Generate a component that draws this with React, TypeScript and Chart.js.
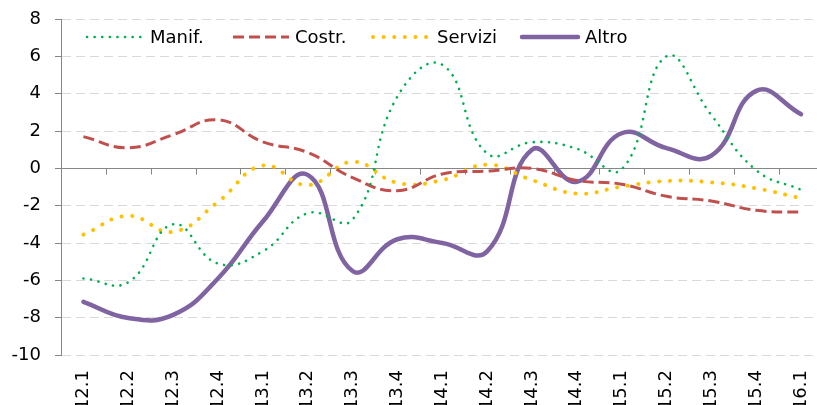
import React, { useEffect, useRef } from "react";
import { Chart, registerables } from "chart.js";
Chart.register(...registerables);

const categories = ["12.1","12.2","12.3","12.4","13.1","13.2","13.3","13.4","14.1","14.2","14.3","14.4","15.1","15.2","15.3","15.4","16.1"];
const manif = [-5.9, -6.1, -3.0, -5.1, -4.45, -2.4, -2.75, 3.85, 5.55, 0.8, 1.4, 1.05, -0.05, 6.0, 2.85, -0.1, -1.15];
const costr = [1.7, 1.1, 1.8, 2.6, 1.42, 0.85, -0.5, -1.2, -0.3, -0.15, 0.0, -0.65, -0.85, -1.5, -1.75, -2.25, -2.35];
const servizi = [-3.55, -2.55, -3.4, -1.8, 0.15, -0.9, 0.35, -0.78, -0.63, 0.2, -0.63, -1.35, -0.98, -0.68, -0.75, -1.07, -1.6];
const altro = [-7.15, -8.02, -7.85, -5.9, -2.85, -0.35, -5.5, -3.8, -4.0, -4.45, 1.0, -0.72, 1.88, 1.08, 0.68, 4.15, 2.9];
const seriesNames = ["Manif.", "Costr.", "Servizi", "Altro"];
const yMin = -10;
const yMax = 8;
const yStep = 2;

const FONT = "'DejaVu Sans', Verdana, sans-serif";

const zeroLinePlugin = {
  id: "zeroLine",
  beforeDatasetsDraw(chart: any) {
    const { ctx, chartArea, scales } = chart;
    const y = scales.y;
    const y0 = Math.round(y.getPixelForValue(0)) + 0.5;
    ctx.save();
    ctx.strokeStyle = "#868686";
    ctx.lineWidth = 1;
    ctx.setLineDash([]);
    ctx.beginPath();
    ctx.moveTo(chartArea.left, y0);
    ctx.lineTo(chartArea.right, y0);
    const n = categories.length;
    const w = (chartArea.right - chartArea.left) / n;
    for (let i = 0; i <= n; i++) {
      const px = Math.round(chartArea.left + i * w) + 0.5;
      ctx.moveTo(px, y0);
      ctx.lineTo(px, y0 + 6);
    }
    ctx.stroke();
    ctx.restore();
  },
};

const legendPlugin = {
  id: "customLegend",
  afterDraw(chart: any) {
    const { ctx } = chart;
    const items = [
      { x1: 87, x2: 145, tx: 150 },
      { x1: 233, x2: 289, tx: 295 },
      { x1: 373, x2: 427, tx: 437 },
      { x1: 522, x2: 578, tx: 585 },
    ];
    const yy = 37;
    ctx.save();
    chart.data.datasets.forEach((ds: any, i: number) => {
      const it = items[i];
      ctx.beginPath();
      ctx.strokeStyle = ds.borderColor;
      ctx.lineWidth = ds.borderWidth;
      ctx.lineCap = ds.borderCapStyle || "butt";
      ctx.setLineDash(ds.borderDash || []);
      ctx.moveTo(it.x1, yy);
      ctx.lineTo(it.x2, yy);
      ctx.stroke();
      ctx.setLineDash([]);
      ctx.fillStyle = "#000";
      ctx.font = `18px ${FONT}`;
      ctx.textBaseline = "middle";
      ctx.textAlign = "left";
      ctx.fillText(ds.label, it.tx, yy + 1);
    });
    ctx.restore();
  },
};

export default function App() {
  const ref = useRef<HTMLCanvasElement | null>(null);
  useEffect(() => {
    if (!ref.current) return;
    const chart = new Chart(ref.current, {
      type: "line",
      data: {
        labels: categories,
        datasets: [
          {
            label: seriesNames[0],
            data: manif,
            borderColor: "#00b050",
            borderWidth: 2.6,
            borderDash: [0.1, 7.5],
            borderCapStyle: "round",
            pointRadius: 0,
            tension: 0.45,
            fill: false,
          },
          {
            label: seriesNames[1],
            data: costr,
            borderColor: "#c0504d",
            borderWidth: 3,
            borderDash: [11, 5],
            borderCapStyle: "butt",
            pointRadius: 0,
            tension: 0.45,
            fill: false,
          },
          {
            label: seriesNames[2],
            data: servizi,
            borderColor: "#ffc000",
            borderWidth: 4,
            borderDash: [0.1, 10.5],
            borderCapStyle: "round",
            pointRadius: 0,
            tension: 0.45,
            fill: false,
          },
          {
            label: seriesNames[3],
            data: altro,
            borderColor: "#8064a2",
            borderWidth: 4.5,
            borderCapStyle: "round",
            pointRadius: 0,
            tension: 0.45,
            fill: false,
          },
        ],
      },
      options: {
        animation: false,
        responsive: false,
        maintainAspectRatio: false,
        layout: { autoPadding: false, padding: { top: 19, right: 16.5, left: 0, bottom: 0 } },
        plugins: {
          legend: { display: false },
          tooltip: { enabled: false },
        },
        scales: {
          x: {
            type: "category",
            offset: true,
            grid: { display: false, drawTicks: false },
            border: { display: false },
            ticks: {
              autoSkip: false,
              minRotation: 90,
              maxRotation: 90,
              padding: 15,
              color: "#000",
              font: { family: FONT, size: 18 },
            },
            afterFit: (scale: any) => {
              scale.height = 50;
              scale.paddingTop = 0;
              scale.paddingBottom = 0;
              scale.paddingLeft = 0;
              scale.paddingRight = 0;
            },
          },
          y: {
            min: yMin,
            max: yMax,
            ticks: {
              stepSize: yStep,
              padding: 14,
              color: "#000",
              font: { family: FONT, size: 18 },
            },
            grid: {
              color: "#d9d9d9",
              lineWidth: 1,
              drawTicks: true,
              tickLength: 6,
              tickColor: "#868686",
            },
            border: { display: true, color: "#868686", width: 1, dash: [9, 5] },
            afterFit: (scale: any) => {
              scale.width = 61;
              scale.paddingTop = 0;
              scale.paddingBottom = 0;
              scale.paddingLeft = 0;
              scale.paddingRight = 0;
            },
          },
        },
      },
      plugins: [zeroLinePlugin, legendPlugin],
    });
    return () => chart.destroy();
  }, []);
  return (
    <div style={{ position: "fixed", left: 0, top: 0, width: 817, height: 405, overflow: "hidden", background: "#fff" }}>
      <canvas ref={ref} width={840} height={405} style={{ width: 840, height: 405, display: "block" }} />
    </div>
  );
}
